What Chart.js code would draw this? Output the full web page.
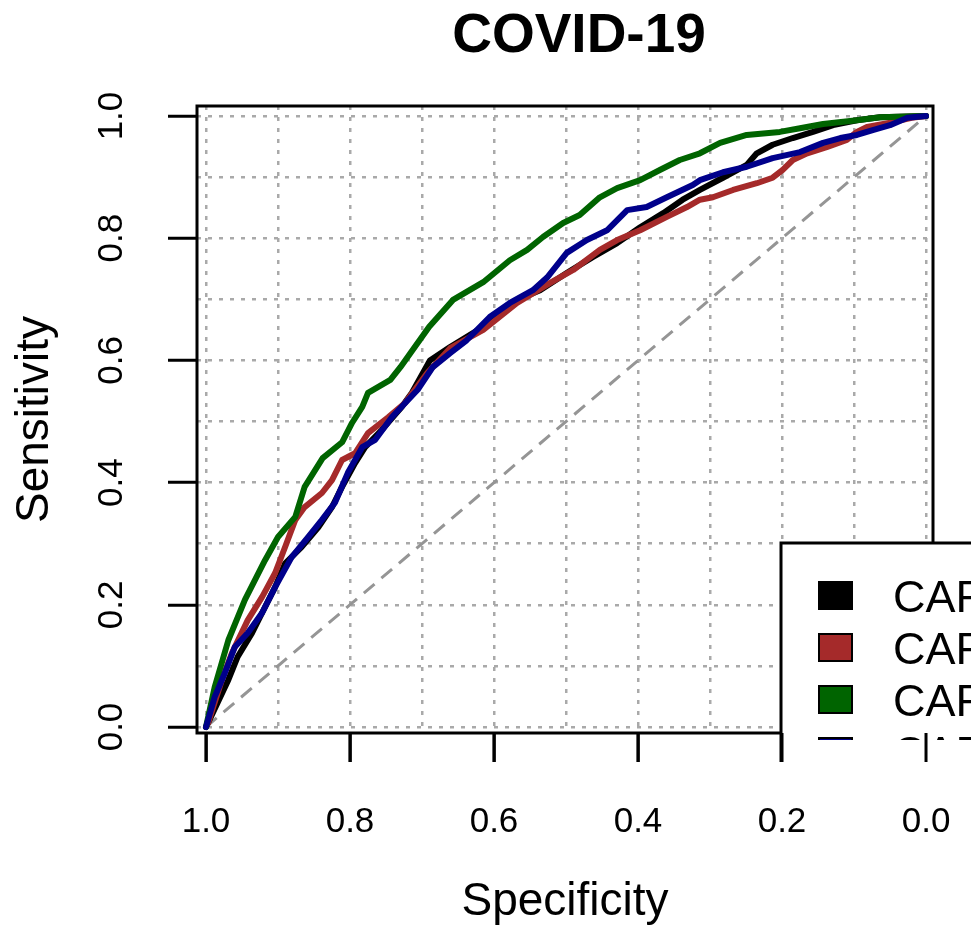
<!DOCTYPE html>
<html>
<head>
<meta charset="utf-8">
<title>COVID-19 ROC</title>
<script src="https://cdn.jsdelivr.net/npm/chart.js@4.4.1/dist/chart.umd.min.js"></script>
<style>
    html, body { margin: 0; padding: 0; background: #fff; }
    #wrap { width: 971px; height: 925px; position: relative; }
</style>
</head>
<body>
<div id="wrap"><canvas id="rocChart"></canvas></div>
<script>
// ========================================
// DATA
// ========================================

const chartTitle = 'COVID-19';
const xTitle = 'Specificity';
const yTitle = 'Sensitivity';

const seriesNames = ['CAR 1', 'CAR 2', 'CAR 3', 'CAR 4'];
const seriesColors = ['#000000', '#A52A2A', '#006400', '#00008B'];

const gridTicks = [0, 0.1, 0.2, 0.3, 0.4, 0.5, 0.6, 0.7, 0.8, 0.9, 1.0];
const labelTicks = [0, 0.2, 0.4, 0.6, 0.8, 1.0];

// black curve
const blackSpec = [1, 0.997, 0.969, 0.956, 0.936, 0.922, 0.904, 0.890, 0.867, 0.844, 0.825, 0.811, 0.793, 0.779, 0.756, 0.728, 0.714, 0.689, 0.661, 0.615, 0.568, 0.536, 0.499, 0.463, 0.429, 0.397, 0.365, 0.338, 0.314, 0.282, 0.249, 0.235, 0.213, 0.185, 0.157, 0.129, 0.096, 0.064, 0];
const blackSens = [0, 0.007, 0.077, 0.115, 0.154, 0.187, 0.229, 0.268, 0.295, 0.327, 0.360, 0.393, 0.432, 0.458, 0.486, 0.524, 0.547, 0.600, 0.622, 0.655, 0.699, 0.715, 0.743, 0.769, 0.792, 0.818, 0.841, 0.863, 0.879, 0.899, 0.920, 0.939, 0.953, 0.964, 0.974, 0.985, 0.993, 0.998, 1];

// red (brown) curve
const redSpec = [1, 0.997, 0.978, 0.964, 0.942, 0.922, 0.904, 0.890, 0.876, 0.863, 0.839, 0.825, 0.811, 0.793, 0.775, 0.747, 0.724, 0.710, 0.693, 0.661, 0.615, 0.568, 0.522, 0.490, 0.453, 0.429, 0.397, 0.360, 0.332, 0.314, 0.296, 0.268, 0.235, 0.213, 0.199, 0.185, 0.165, 0.138, 0.110, 0.096, 0.082, 0.046, 0.020, 0];
const redSens = [0, 0.007, 0.077, 0.121, 0.175, 0.213, 0.252, 0.295, 0.339, 0.360, 0.383, 0.404, 0.437, 0.448, 0.481, 0.507, 0.530, 0.552, 0.579, 0.620, 0.650, 0.694, 0.727, 0.748, 0.781, 0.797, 0.813, 0.835, 0.851, 0.863, 0.867, 0.879, 0.890, 0.899, 0.912, 0.928, 0.939, 0.949, 0.961, 0.974, 0.982, 0.990, 0.997, 1];

// green curve
const greenSpec = [1, 0.988, 0.969, 0.946, 0.918, 0.900, 0.876, 0.863, 0.838, 0.811, 0.797, 0.783, 0.775, 0.744, 0.730, 0.713, 0.690, 0.657, 0.615, 0.578, 0.554, 0.532, 0.504, 0.481, 0.453, 0.429, 0.397, 0.369, 0.342, 0.314, 0.286, 0.249, 0.203, 0.175, 0.143, 0.096, 0.064, 0];
const greenSens = [0, 0.065, 0.142, 0.208, 0.273, 0.311, 0.344, 0.393, 0.440, 0.466, 0.498, 0.524, 0.547, 0.568, 0.589, 0.617, 0.655, 0.699, 0.728, 0.764, 0.781, 0.802, 0.825, 0.838, 0.867, 0.882, 0.895, 0.912, 0.928, 0.939, 0.956, 0.969, 0.974, 0.980, 0.987, 0.993, 0.998, 1];

// blue curve
const blueSpec = [1, 0.988, 0.974, 0.960, 0.942, 0.922, 0.904, 0.881, 0.858, 0.839, 0.821, 0.803, 0.783, 0.765, 0.742, 0.706, 0.685, 0.661, 0.638, 0.606, 0.578, 0.546, 0.526, 0.499, 0.471, 0.443, 0.415, 0.388, 0.360, 0.324, 0.314, 0.282, 0.249, 0.213, 0.175, 0.143, 0.119, 0.096, 0.074, 0.050, 0.026, 0];
const blueSens = [0, 0.049, 0.088, 0.131, 0.154, 0.187, 0.229, 0.278, 0.311, 0.339, 0.367, 0.416, 0.458, 0.470, 0.507, 0.552, 0.589, 0.612, 0.633, 0.671, 0.694, 0.715, 0.736, 0.776, 0.797, 0.813, 0.846, 0.851, 0.867, 0.887, 0.895, 0.908, 0.917, 0.931, 0.941, 0.956, 0.964, 0.969, 0.977, 0.985, 0.997, 1];

// chance line
const chanceSpec = [1, 0];
const chanceSens = [0, 1];

// ========================================
// HELPERS
// ========================================

const FONT = '"Liberation Sans", Arial, Helvetica, sans-serif';

function toPoints(spec, sens) {
    return spec.map((s, i) => ({ x: s, y: sens[i] }));
}

function isLabelTick(v) {
    return labelTicks.some(t => Math.abs(t - v) < 1e-9);
}

function curve(index, spec, sens, order) {
    return {
        label: seriesNames[index],
        data: toPoints(spec, sens),
        borderColor: seriesColors[index],
        backgroundColor: seriesColors[index],
        borderWidth: 6,
        pointRadius: 0,
        tension: 0,
        fill: false,
        borderJoinStyle: 'round',
        borderCapStyle: 'round',
        order: order
    };
}

// ========================================
// PLUGINS
// ========================================

// Title above the plot box
const titlePlugin = {
    id: 'rTitle',
    afterDraw(chart) {
        const { ctx, chartArea } = chart;
        ctx.save();
        ctx.font = 'bold 55px ' + FONT;
        ctx.fillStyle = '#000';
        ctx.textAlign = 'center';
        ctx.textBaseline = 'middle';
        ctx.fillText(chartTitle, (chartArea.left + chartArea.right) / 2 + 14, 37);
        ctx.restore();
    }
};

// Box round the plot, then the legend (cut off at the bottom right, as in the original)
const boxLegendPlugin = {
    id: 'boxLegend',
    afterDraw(chart) {
        const { ctx, chartArea: a, scales } = chart;
        ctx.save();
        ctx.strokeStyle = '#000';
        ctx.lineWidth = 3;
        ctx.strokeRect(a.left, a.top, a.right - a.left, a.bottom - a.top);

        const lx = 781, ly = 543, lBottom = 762, clipBottom = 740;
        ctx.fillStyle = '#fff';
        ctx.fillRect(lx, ly, chart.width - lx, lBottom - ly);
        ctx.beginPath();
        ctx.moveTo(lx, lBottom);
        ctx.lineTo(lx, ly);
        ctx.lineTo(chart.width, ly);
        ctx.stroke();

        ctx.save();
        ctx.beginPath();
        ctx.rect(lx, ly, chart.width - lx, clipBottom - ly);
        ctx.clip();
        ctx.font = '45px ' + FONT;
        ctx.textAlign = 'left';
        ctx.textBaseline = 'alphabetic';
        seriesNames.forEach((name, i) => {
            const top = 582 + i * 52;
            ctx.fillStyle = seriesColors[i];
            ctx.fillRect(819, top, 33, 27);
            ctx.lineWidth = 2;
            ctx.strokeStyle = '#000';
            ctx.strokeRect(819, top, 33, 27);
            ctx.fillStyle = '#000';
            ctx.fillText(name, 893, top + 30);
        });
        ctx.restore();

        // axis tick marks sit on top of the legend
        ctx.strokeStyle = '#000';
        ctx.lineWidth = 3;
        labelTicks.forEach(v => {
            const x = scales.x.getPixelForValue(v);
            ctx.beginPath();
            ctx.moveTo(x, a.bottom);
            ctx.lineTo(x, a.bottom + 29);
            ctx.stroke();
        });
        ctx.restore();
    }
};

// ========================================
// CHART
// ========================================

function gridOptions() {
    return {
        color: '#a9a9a9',
        lineWidth: 2.5,
        drawTicks: true,
        tickLength: 29,
        tickWidth: 3,
        tickBorderDash: [],
        tickColor: c => (c.tick && isLabelTick(c.tick.value)) ? '#000' : 'rgba(0,0,0,0)'
    };
}

const ctx = document.getElementById('rocChart');

new Chart(ctx, {
    type: 'line',
    data: {
        datasets: [
            curve(0, blackSpec, blackSens, 3),
            curve(1, redSpec, redSens, 2),
            curve(2, greenSpec, greenSens, 1),
            curve(3, blueSpec, blueSens, 0),
            {
                label: 'chance',
                data: toPoints(chanceSpec, chanceSens),
                borderColor: '#959595',
                borderWidth: 3,
                borderDash: [14, 9],
                pointRadius: 0,
                fill: false,
                order: 4
            }
        ]
    },
    options: {
        responsive: true,
        maintainAspectRatio: false,
        animation: false,
        layout: { padding: { top: 106, right: 38, left: 0, bottom: 0 } },
        plugins: {
            legend: { display: false },
            title: { display: false },
            tooltip: { enabled: false }
        },
        scales: {
            x: {
                type: 'linear',
                reverse: true,
                min: -0.0097,
                max: 1.0125,
                afterBuildTicks: s => { s.ticks = gridTicks.map(v => ({ value: v })); },
                afterFit: s => { s.height = 192; },
                grid: gridOptions(),
                border: { display: false, dash: [4, 7] },
                ticks: {
                    autoSkip: false,
                    maxRotation: 0,
                    padding: 39,
                    color: '#000',
                    font: { family: FONT, size: 35, lineHeight: 1.2 },
                    callback: v => isLabelTick(v) ? v.toFixed(1) : ''
                },
                title: {
                    display: true,
                    text: xTitle,
                    color: '#000',
                    font: { family: FONT, size: 46, lineHeight: 1 },
                    padding: { top: 0, bottom: 0 }
                }
            },
            y: {
                type: 'linear',
                min: -0.0098,
                max: 1.0164,
                afterBuildTicks: s => { s.ticks = gridTicks.map(v => ({ value: v })); },
                afterFit: s => { s.width = 197; },
                grid: gridOptions(),
                border: { display: false, dash: [4, 7] },
                ticks: {
                    autoSkip: false,
                    minRotation: 90,
                    maxRotation: 90,
                    crossAlign: 'center',
                    padding: 31,
                    color: '#000',
                    font: { family: FONT, size: 35, lineHeight: 1.2 },
                    callback: v => isLabelTick(v) ? v.toFixed(1) : ''
                },
                title: {
                    display: true,
                    text: yTitle,
                    color: '#000',
                    font: { family: FONT, size: 46, lineHeight: 1 },
                    padding: { top: 12, bottom: 0 }
                }
            }
        }
    },
    plugins: [titlePlugin, boxLegendPlugin]
});
</script>
</body>
</html>
